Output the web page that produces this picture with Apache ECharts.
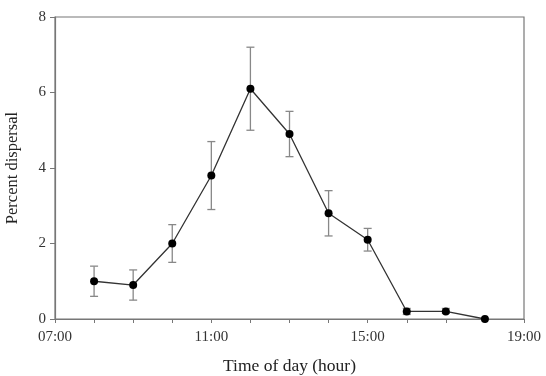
<!DOCTYPE html>
<html>
<head>
<meta charset="utf-8">
<script src="https://cdn.jsdelivr.net/npm/echarts@6/dist/echarts.min.js"></script>
<style>
html,body{margin:0;padding:0;background:#fff;}
#main{width:546px;height:376px;}
</style>
</head>
<body>
<div id="main"></div>
<script>
// hours of day
var hours = [8, 9, 10, 11, 12, 13, 14, 15, 16, 17, 18];
// percent dispersal
var means = [1.0, 0.9, 2.0, 3.8, 6.1, 4.9, 2.8, 2.1, 0.2, 0.2, 0.0];
var lows = [0.6, 0.5, 1.5, 2.9, 5.0, 4.3, 2.2, 1.8, 0.12, 0.15, 0.0];
var highs = [1.4, 1.3, 2.5, 4.7, 7.2, 5.5, 3.4, 2.4, 0.28, 0.28, 0.0];
var xLabels = {7: '07:00', 11: '11:00', 15: '15:00', 19: '19:00'};

var lineData = [];
var errData = [];
for (var i = 0; i < hours.length; i++) {
	lineData.push([hours[i], means[i]]);
	errData.push([hours[i], lows[i], highs[i]]);
}

var font = 'Liberation Serif';
var axisGray = '#777';

var option = {
	animation: false,
	grid: {
		left: 55, right: 22, top: 17, bottom: 57,
		outerBoundsMode: 'none',
		containLabel: false,
		show: true, borderColor: axisGray, borderWidth: 1.2
	},
	xAxis: {
		type: 'value',
		min: 7, max: 19, interval: 1,
		name: 'Time of day (hour)',
		nameLocation: 'middle',
		nameGap: 38,
		nameTextStyle: {fontFamily: font, fontSize: 17.5, color: '#222'},
		axisLine: {lineStyle: {color: axisGray, width: 1.2}},
		axisTick: {length: 4, lineStyle: {color: axisGray}},
		axisLabel: {
			fontFamily: font, fontSize: 15, color: '#333', margin: 11,
			formatter: function (v) { return xLabels[v] || ''; }
		},
		splitLine: {show: false}
	},
	yAxis: {
		type: 'value',
		min: 0, max: 8, interval: 2,
		name: 'Percent dispersal',
		nameLocation: 'middle',
		nameGap: 34,
		nameTextStyle: {fontFamily: font, fontSize: 16.5, color: '#222'},
		axisLine: {show: true, lineStyle: {color: axisGray, width: 1.2}},
		axisTick: {show: true, length: 5, lineStyle: {color: axisGray}},
		axisLabel: {fontFamily: font, fontSize: 15, color: '#333', margin: 9},
		splitLine: {show: false}
	},
	series: [
		{
			type: 'custom',
			data: errData,
			z: 1,
			renderItem: function (params, api) {
				var x = api.value(0);
				var lo = api.coord([x, api.value(1)]);
				var hi = api.coord([x, api.value(2)]);
				var w = 4;
				var st = {stroke: '#888', lineWidth: 1.3};
				return {
					type: 'group',
					children: [
						{type: 'line', shape: {x1: lo[0], y1: lo[1], x2: hi[0], y2: hi[1]}, style: st},
						{type: 'line', shape: {x1: lo[0] - w, y1: lo[1], x2: lo[0] + w, y2: lo[1]}, style: st},
						{type: 'line', shape: {x1: hi[0] - w, y1: hi[1], x2: hi[0] + w, y2: hi[1]}, style: st}
					]
				};
			}
		},
		{
			type: 'line',
			data: lineData,
			z: 2,
			symbol: 'circle',
			symbolSize: 8,
			lineStyle: {color: '#333', width: 1.3},
			itemStyle: {color: '#000'}
		}
	]
};

var myChart = echarts.init(document.getElementById('main'));
myChart.setOption(option);
</script>
</body>
</html>
